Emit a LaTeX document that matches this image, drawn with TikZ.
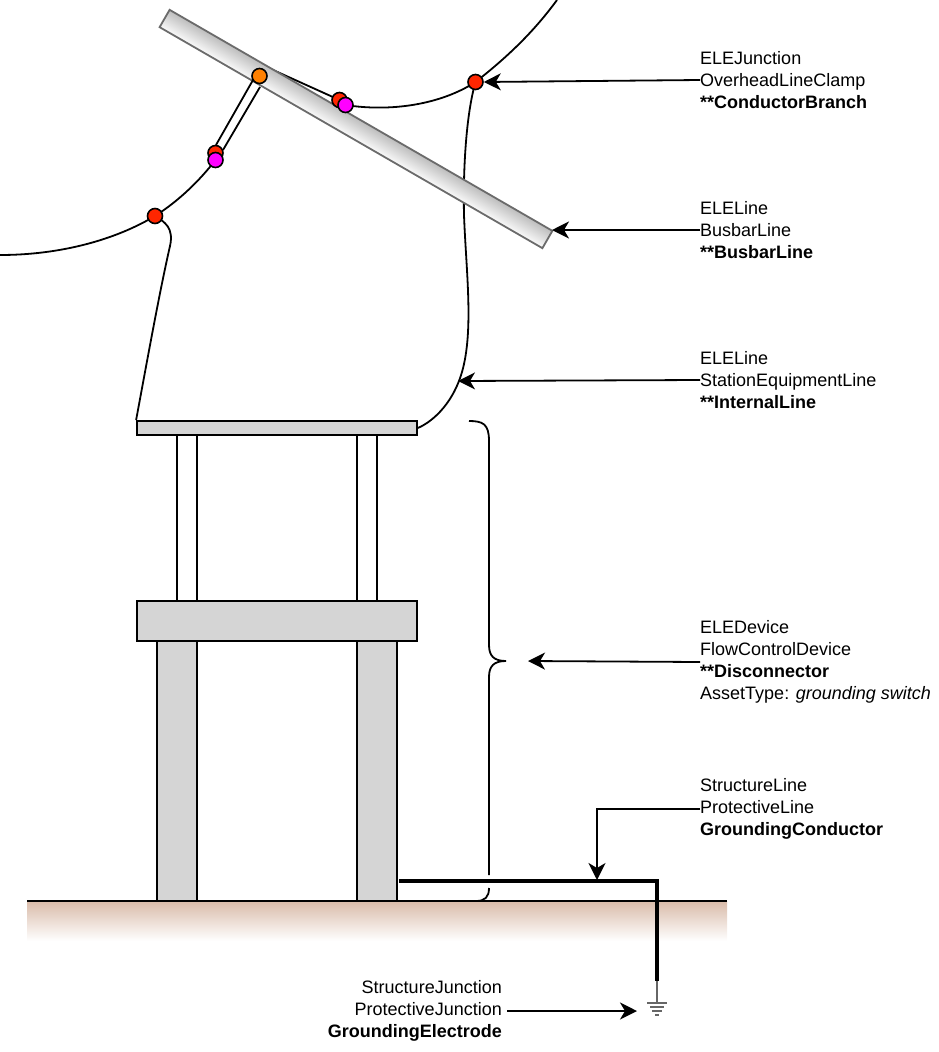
\documentclass[tikz,border=0pt]{standalone}
\usepackage{fontspec}
\setmainfont{Liberation Sans}
\usetikzlibrary{arrows.meta}
\usetikzlibrary{positioning}
\definecolor{partgray}{HTML}{D5D5D5}
\definecolor{groundbrown}{HTML}{D9BBA9}
\definecolor{clampred}{HTML}{FF2600}
\definecolor{clampmagenta}{HTML}{FF00FF}
\definecolor{clamporange}{HTML}{FF8000}
\tikzset{
  labelbox/.style={inner sep=0pt, align=left, anchor=west, font=\fontsize{18}{22}\selectfont},
  partbox/.style={draw, line width=1.8pt, fill=partgray},
  postbox/.style={draw, line width=1.8pt, fill=white},
  clamp/.style={circle, draw, line width=1.6pt, minimum size=15pt, inner sep=0pt},
  wire/.style={line width=1.8pt},
  pointer/.style={line width=1.8pt, -{Stealth[length=17pt,width=17pt,inset=5pt]}},
}
\begin{document}
\begin{tikzpicture}[x=1pt,y=-1pt]
    \useasboundingbox (0,0) rectangle (938,1052);

    % ground
    \shade[top color=groundbrown, bottom color=white] (27,901) rectangle (727,941);
    \draw[line width=1.8pt] (27,901) -- (727,901);

    % overhead line
    \coordinate (lineStart) at (0,255);
    \coordinate (lineEnd) at (557,0);
    \coordinate (clampAt) at (155,216);
    \coordinate (branchAt) at (475.5,82);
    \coordinate (hiddenEnd) at (262,65);
    \draw[wire] (lineStart) .. controls (60,255) and (115,240) .. (clampAt);
    \draw[wire] (clampAt) .. controls (180,200) and (200,180) .. (215.5,160);
    \draw[wire] (345.5,105) .. controls (390,112) and (440,105) .. (branchAt);
    \draw[wire] (branchAt) .. controls (510,55) and (535,30) .. (lineEnd);
    \draw[wire] (hiddenEnd) -- (339.5,100);

    % device
    \node[postbox, minimum width=20pt, minimum height=166pt, inner sep=0pt] (postL) at (187,518) {};
    \node[postbox, minimum width=20pt, minimum height=166pt, inner sep=0pt] (postR) at (367,518) {};
    \node[partbox, minimum width=280pt, minimum height=14pt, inner sep=0pt] (plate) at (277,428) {};
    \node[partbox, minimum width=40pt, minimum height=260pt, inner sep=0pt] (legL) at (177,771) {};
    \node[partbox, minimum width=40pt, minimum height=260pt, inner sep=0pt] (legR) at (377,771) {};
    \node[partbox, minimum width=280pt, minimum height=40pt, inner sep=0pt] (base) at (277,621) {};

    % internal lines
    \draw[wire] (clampAt) .. controls (165,222) and (174,228) .. (170,246)
        .. controls (160,290) and (150,345) .. (plate.north west);
    \draw[wire] (branchAt) .. controls (466,115) and (463,170) .. (464,215)
        .. controls (466,270) and (474,330) .. (462,372) .. controls (454,400) and (436,420) .. (plate.east);

    % busbar
    \begin{scope}[transform canvas={shift={(356,129)},rotate=-30}]
    \node[draw=black!58, line width=1.8pt, minimum width=442pt, minimum height=20pt, inner sep=0pt,
        top color=black!26, bottom color=black!2] (busbar) at (0,0) {};
    \end{scope}
    \coordinate (busbarEnd) at (552,230);

    % jumper to the busbar
    \draw[wire] (253,80) -- (216,145);
    \draw[wire] (260,87) -- (223,150);

    % clamps
    \node[clamp, fill=clampred] (clampA) at (clampAt) {};
    \node[clamp, fill=clampred] (clampB) at (branchAt) {};
    \node[clamp, fill=clampred] (clampC) at (215.5,153) {};
    \node[clamp, fill=clampred] (clampD) at (339.5,100) {};
    \node[clamp, fill=clampmagenta] (clampF) at (215.5,160) {};
    \node[clamp, fill=clampmagenta] (clampG) at (345.5,105) {};
    \node[clamp, fill=clamporange] (clampE) at (259.5,76) {};

    % brace
    \draw[wire] (469,421) .. controls (483,421) and (489,424) .. (489,441) -- (489,645)
        .. controls (489,656) and (494,661) .. (506,661) .. controls (494,661) and (489,666) .. (489,677) -- (489,875);
    \draw[wire] (489,888) .. controls (489,897) and (485,901) .. (476,901);
    \coordinate (braceTip) at (528,661);

    % grounding
    \coordinate (groundTop) at (657,981);
    \coordinate (groundBar) at (657,1003);
    \draw[line width=4pt] (399,881) -- (657,881) -- (groundTop);
    \draw[black!60, line width=1.5pt] (groundTop) -- (groundBar);
    \draw[black!60, line width=1.2pt] (647,1003) -- (667,1003);
    \draw[black!60, line width=1.2pt] (650,1007) -- (664,1007);
    \draw[black!60, line width=1.2pt] (652,1011) -- (662,1011);
    \draw[black!60, line width=1.2pt] (655,1015) -- (659,1015);
    \coordinate (electrodeTip) at (637,1011);
    \coordinate (conductorTip) at (597,880);
    \coordinate (internalTip) at (458,381);

    % labels
    \node[labelbox] (lblClamp) at (700,80) {ELEJunction\\OverheadLineClamp\\\textbf{**ConductorBranch}};
    \node[labelbox] (lblBusbar) at (700,230) {ELELine\\BusbarLine\\\textbf{**BusbarLine}};
    \node[labelbox] (lblInternal) at (700,380) {ELELine\\StationEquipmentLine\\\textbf{**InternalLine}};
    \node[labelbox] (lblDisconnector) at (700,662) {ELEDevice\\FlowControlDevice\\\textbf{**Disconnector}\\AssetType: \textit{grounding switch}};
    \node[labelbox] (lblConductor) at (700,809) {StructureLine\\ProtectiveLine\\\textbf{GroundingConductor}};
    \node[labelbox, align=right, anchor=east] (lblElectrode) at (502,1011) {StructureJunction\\ProtectiveJunction\\\textbf{GroundingElectrode}};

    % pointers
    \draw[pointer] (lblClamp.west) -- (clampB.east);
    \draw[pointer] (lblBusbar.west) -- (busbarEnd);
    \draw[pointer] (lblInternal.west) -- (internalTip);
    \draw[pointer] (lblDisconnector.west) -- (braceTip);
    \draw[pointer] (lblConductor.west) -| (conductorTip);
    \draw[pointer, shorten <=5pt] (lblElectrode.east) -- (electrodeTip);

\end{tikzpicture}
\end{document}
